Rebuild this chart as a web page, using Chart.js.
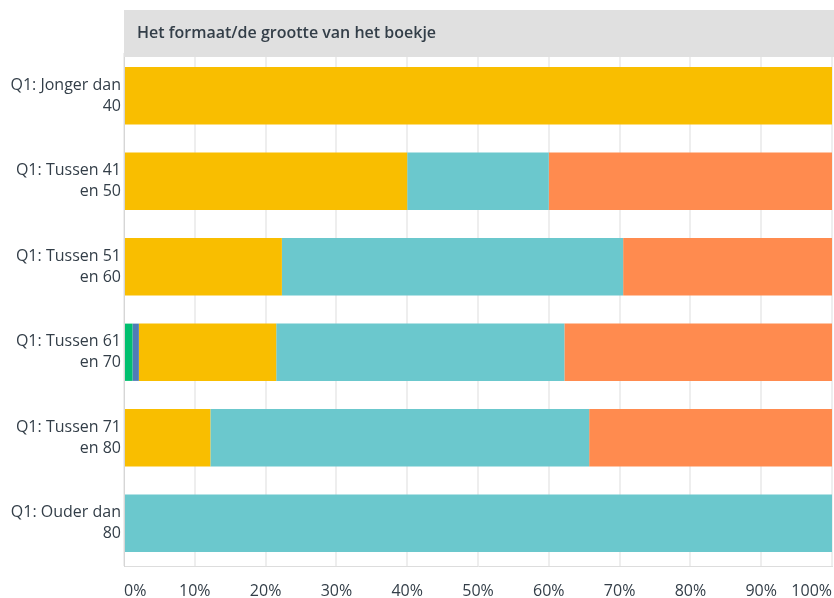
<!DOCTYPE html>
<html>
<head>
<meta charset="utf-8">
<script src="https://cdn.jsdelivr.net/npm/chart.js@4/dist/chart.umd.min.js"></script>
<style>
  html, body { margin: 0; padding: 0; background: #fff; }
  #wrap { width: 834px; height: 598px; position: relative; }
</style>
</head>
<body>
<div id="wrap"><canvas id="chart" width="834" height="598"></canvas></div>
<script>
var title = 'Het formaat/de grootte van het boekje'

var categories = [
  ['Q1: Jonger dan', '40'],
  ['Q1: Tussen 41', 'en 50'],
  ['Q1: Tussen 51', 'en 60'],
  ['Q1: Tussen 61', 'en 70'],
  ['Q1: Tussen 71', 'en 80'],
  ['Q1: Ouder dan', '80']
]

// percentages per answer, one value per age group
var greenValues = [0, 0, 0, 1.2, 0, 0]
var blueValues = [0, 0, 0, 0.9, 0, 0]
var yellowValues = [100, 40, 22.3, 19.4, 12.2, 0]
var tealValues = [0, 20, 48.2, 40.7, 53.5, 100]
var orangeValues = [0, 40, 29.5, 37.8, 34.3, 0]

var tickValues = [0, 10, 20, 30, 40, 50, 60, 70, 80, 90, 100]

var textColor = '#333e48'
var font = '"Open Sans", "DejaVu Sans", sans-serif'

// grey title bar above the plot and the x tick labels, placed via the scales
var titleBar = {
  id: 'titleBar',
  afterDraw(chart) {
    var ctx = chart.ctx
    var area = chart.chartArea
    ctx.save()
    ctx.fillStyle = '#e0e0e0'
    ctx.fillRect(area.left, 10, chart.width - area.left, 47)
    ctx.fillStyle = textColor
    ctx.font = '600 16px ' + font
    ctx.textBaseline = 'middle'
    ctx.textAlign = 'left'
    ctx.fillText(title, area.left + 13, 33)

    var xScale = chart.scales.x
    ctx.font = '16px ' + font
    tickValues.forEach((v, i) => {
      var px = xScale.getPixelForValue(v)
      if (i === 0) {
        ctx.textAlign = 'left'
      } else if (i === tickValues.length - 1) {
        ctx.textAlign = 'right'
      } else {
        ctx.textAlign = 'center'
      }
      ctx.fillText(v + '%', px, 591)
    })
    ctx.restore()
  }
}

function makeSet(label, data, color) {
  return {
    label: label,
    data: data,
    backgroundColor: color,
    borderWidth: 0,
    barPercentage: 0.67,
    categoryPercentage: 1.0
  }
}

new Chart(document.getElementById('chart'), {
  type: 'bar',
  data: {
    labels: categories,
    datasets: [
      makeSet('groen', greenValues, '#00bf6f'),
      makeSet('blauw', blueValues, '#507cb6'),
      makeSet('geel', yellowValues, '#f9be00'),
      makeSet('turquoise', tealValues, '#6bc8cd'),
      makeSet('oranje', orangeValues, '#ff8b4f')
    ]
  },
  options: {
    indexAxis: 'y',
    responsive: false,
    animation: false,
    layout: {
      padding: { top: 53, bottom: 32, right: 2, left: 0 }
    },
    plugins: {
      legend: { display: false },
      tooltip: { enabled: false }
    },
    scales: {
      x: {
        stacked: true,
        min: 0,
        max: 100,
        ticks: { display: false, stepSize: 10 },
        grid: { color: '#eeeeee', lineWidth: 2, drawTicks: false },
        border: { display: true, color: '#dddddd', width: 1 }
      },
      y: {
        stacked: true,
        afterFit(scale) {
          scale.width = 124
        },
        ticks: {
          color: textColor,
          font: { family: font, size: 16, lineHeight: 1.3 },
          padding: 3
        },
        grid: { display: false, drawTicks: false },
        border: { display: true, color: '#d6d6d6', width: 1 }
      }
    }
  },
  plugins: [titleBar]
})
</script>
</body>
</html>
